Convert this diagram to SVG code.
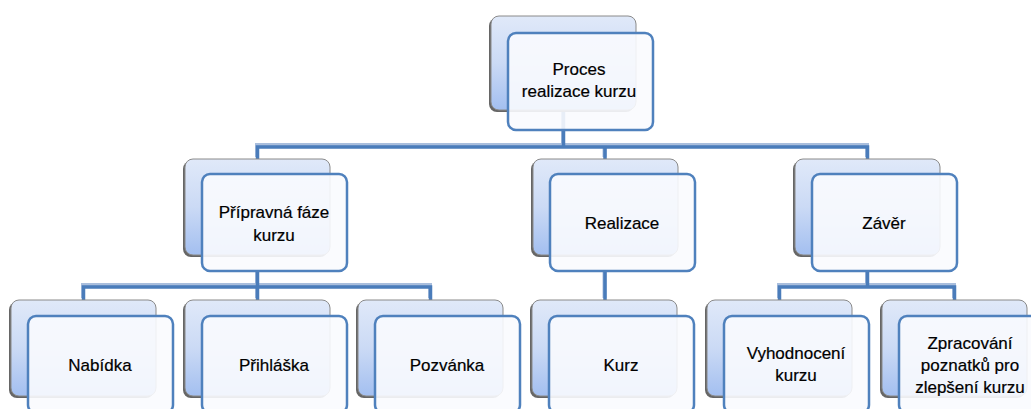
<svg xmlns="http://www.w3.org/2000/svg" width="1031" height="409" viewBox="0 0 1031 409">
<defs>
<linearGradient id="bg" x1="0" y1="0" x2="0" y2="1">
<stop offset="0" stop-color="#e0e9f9"/>
<stop offset="0.5" stop-color="#cbdaf5"/>
<stop offset="1" stop-color="#a3bff0"/>
</linearGradient>
<style>
.back{fill:url(#bg);stroke:#8a8a8a;stroke-width:1}
.shadow{fill:#666666}
.front{fill:#f9fbfe;fill-opacity:0.9;stroke:#4f81bd;stroke-width:2.5}
.lnl{fill:none;stroke:#a9bedd;stroke-width:4}
.lnd{fill:none;stroke:#4a7cba;stroke-width:3.5}
text{font-family:"Liberation Sans",Arial,sans-serif;font-size:17px;fill:#000;text-anchor:middle;stroke:#000;stroke-width:0.2}
</style>
</defs>
<rect width="1031" height="409" fill="#ffffff"/>
<g id="connectors">
<g transform="translate(-0.5,-2)">
<path class="lnl" d="M563.5 112 V147 M257.5 159 V147 H867.5 V159 M605 147 V159 M257.5 272 V287 M83.5 300 V287 H430.5 V300 M257.5 287 V300 M605 272 V300 M867.5 272 V287 M779.5 300 V287 H954.5 V300"/>
</g>
<path class="lnd" d="M563.5 112 V147 M257.5 159 V147 H867.5 V159 M605 147 V159 M257.5 272 V287 M83.5 300 V287 H430.5 V300 M257.5 287 V300 M605 272 V300 M867.5 272 V287 M779.5 300 V287 H954.5 V300"/>
</g>
<g id="n-proces">
<rect class="shadow" x="489" y="18" width="145" height="94" rx="8"/>
<rect class="back" x="491" y="16" width="145" height="94" rx="8"/>
<rect class="front" x="508" y="33" width="145" height="97" rx="8"/>
<text x="579" y="75">Proces</text>
<text x="579" y="97">realizace kurzu</text>
</g>
<g id="n-pripravna">
<rect class="shadow" x="183" y="161" width="145" height="96" rx="8"/>
<rect class="back" x="185" y="159" width="145" height="96" rx="8"/>
<rect class="front" x="202" y="174" width="145" height="97" rx="8"/>
<text x="274" y="218">Přípravná fáze</text>
<text x="274" y="241">kurzu</text>
</g>
<g id="n-realizace">
<rect class="shadow" x="531" y="161" width="145" height="96" rx="8"/>
<rect class="back" x="533" y="159" width="145" height="96" rx="8"/>
<rect class="front" x="550" y="174" width="145" height="97" rx="8"/>
<text x="622" y="229">Realizace</text>
</g>
<g id="n-zaver">
<rect class="shadow" x="793" y="161" width="145" height="96" rx="8"/>
<rect class="back" x="795" y="159" width="145" height="96" rx="8"/>
<rect class="front" x="812" y="174" width="145" height="97" rx="8"/>
<text x="884" y="229">Závěr</text>
</g>
<g id="n-nabidka">
<rect class="shadow" x="9" y="302" width="145" height="96" rx="8"/>
<rect class="back" x="11" y="300" width="145" height="96" rx="8"/>
<rect class="front" x="28" y="316" width="145" height="97" rx="8"/>
<text x="100" y="371">Nabídka</text>
</g>
<g id="n-prihlaska">
<rect class="shadow" x="183" y="302" width="145" height="96" rx="8"/>
<rect class="back" x="185" y="300" width="145" height="96" rx="8"/>
<rect class="front" x="202" y="316" width="145" height="97" rx="8"/>
<text x="274" y="371">Přihláška</text>
</g>
<g id="n-pozvanka">
<rect class="shadow" x="356" y="302" width="145" height="96" rx="8"/>
<rect class="back" x="358" y="300" width="145" height="96" rx="8"/>
<rect class="front" x="375" y="316" width="145" height="97" rx="8"/>
<text x="447" y="371">Pozvánka</text>
</g>
<g id="n-kurz">
<rect class="shadow" x="530" y="302" width="145" height="96" rx="8"/>
<rect class="back" x="532" y="300" width="145" height="96" rx="8"/>
<rect class="front" x="549" y="316" width="145" height="97" rx="8"/>
<text x="621" y="371">Kurz</text>
</g>
<g id="n-vyhodnoceni">
<rect class="shadow" x="705" y="302" width="145" height="96" rx="8"/>
<rect class="back" x="707" y="300" width="145" height="96" rx="8"/>
<rect class="front" x="724" y="316" width="145" height="97" rx="8"/>
<text x="796" y="359">Vyhodnocení</text>
<text x="796" y="381">kurzu</text>
</g>
<g id="n-zpracovani">
<rect class="shadow" x="880" y="302" width="145" height="96" rx="8"/>
<rect class="back" x="882" y="300" width="145" height="96" rx="8"/>
<rect class="front" x="899" y="316" width="145" height="97" rx="8"/>
<text x="970" y="349">Zpracování</text>
<text x="970" y="371">poznatků pro</text>
<text x="970" y="393">zlepšení kurzu</text>
</g>
</svg>
